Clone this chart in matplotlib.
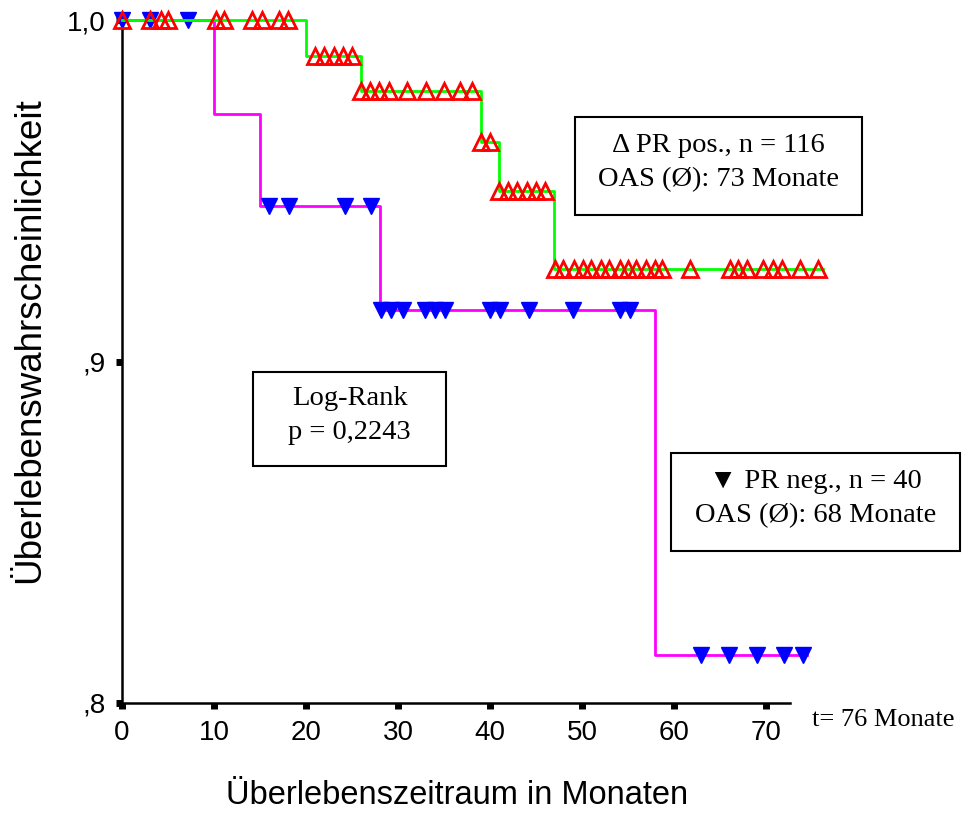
import matplotlib.pyplot as plt
from matplotlib.patches import Rectangle

# Kaplan-Meier curves
pos_t = [0, 20, 26, 39, 41, 47, 76.2]
pos_s = [1.0, 0.9894, 0.9793, 0.9643, 0.9499, 0.927, 0.927]
neg_t = [0, 10, 15, 28, 58, 74.5]
neg_s = [1.0, 0.9726, 0.9455, 0.9152, 0.814, 0.814]

# censored observations
pos_cens = {
    1.0: [0, 3, 4.2, 5, 10.2, 11.1, 14.1, 15.2, 17.1, 18.1],
    0.9894: [21, 22, 23, 24, 25],
    0.9793: [26, 27, 27.9, 29, 31, 33, 35, 36.7, 38],
    0.9643: [39, 40],
    0.9499: [41, 42, 43, 44, 45, 46],
    0.927: [47.1, 48, 49.1, 50.1, 51, 52.1, 53, 54.1, 55, 55.9, 57, 57.9, 58.7,
            61.8, 66.1, 67, 67.9, 69.7, 70.8, 71.8, 73.7, 75.7],
}
neg_cens = {
    1.0: [0, 3, 7.2],
    0.9455: [16, 18.2, 24.2, 27.1],
    0.9152: [28.2, 29.3, 30.6, 32.9, 34, 35.1, 40, 41.1, 44.2, 49, 54.1, 55.2],
    0.814: [63, 66, 69, 72, 74],
}

xticks = [0, 10, 20, 30, 40, 50, 60, 70]
yticks = [0.8, 0.9, 1.0]
ylabels = [',8', ',9', '1,0']

plt.rcParams['font.family'] = ['Liberation Sans', 'DejaVu Sans']

fig = plt.figure(figsize=(9.65, 8.36), dpi=100)
ax = fig.add_axes([122 / 965, 1 - 703 / 836, (844 - 122) / 965, (703 - 20) / 836])

ax.step(neg_t, neg_s, where='post', color='#ff00ff', lw=2, zorder=2, clip_on=False)
for lvl, xs in neg_cens.items():
    ax.plot(xs, [lvl] * len(xs), 'v', color='#0000ff', ms=12, mec='#0000ff',
            ls='none', zorder=3, clip_on=False)
ax.step(pos_t, pos_s, where='post', color='#00ff00', lw=2, zorder=4, clip_on=False)
for lvl, xs in pos_cens.items():
    ax.plot(xs, [lvl] * len(xs), '^', mfc='none', mec='#ff0000', mew=2, ms=11,
            ls='none', zorder=5, clip_on=False)

ax.set_xlim(0, 78.5)
ax.set_ylim(0.8, 1.0)
ax.spines['top'].set_visible(False)
ax.spines['right'].set_visible(False)
ax.spines['bottom'].set_bounds(0, 72.6)
ax.spines['bottom'].set_linewidth(1.8)
ax.spines['left'].set_linewidth(1.8)
ax.set_xticks(xticks)
ax.set_yticks(yticks)
ax.set_yticklabels(ylabels)
ax.tick_params(axis='both', direction='out', length=4, width=5, labelsize=20, pad=8)

fig.text(30 / 965, 1 - 340 / 836, 'Überlebenswahrscheinlichkeit', rotation=90,
         ha='center', va='center', fontsize=26.5)
fig.text(457 / 965, 1 - 795 / 836, 'Überlebenszeitraum in Monaten',
         ha='center', va='center', fontsize=23.5)

serif = ['Liberation Serif', 'DejaVu Serif']
fig.text(812 / 965, 1 - 720 / 836, 't= 76 Monate', ha='left', va='center',
         fontsize=19, family=serif)

boxes = [
    (575, 117, 862, 215, 'Δ PR pos., n = 116\nOAS (Ø): 73 Monate'),
    (253, 372, 446, 466, 'Log-Rank\np = 0,2243'),
    (671, 453, 960, 551, '▼ PR neg., n = 40\nOAS (Ø): 68 Monate'),
]
for x0, y0, x1, y1, txt in boxes:
    fig.patches.append(Rectangle((x0 / 965, 1 - y1 / 836), (x1 - x0) / 965, (y1 - y0) / 836,
                                 transform=fig.transFigure, fill=False, ec='black', lw=1.5))
    fig.text((x0 + x1) / 2 / 965, 1 - (y0 + y1) / 2 / 836 + 0.004, txt, ha='center',
             va='center', fontsize=20.5, family=serif, linespacing=1.45)

fig.savefig('out.png', dpi=100)
